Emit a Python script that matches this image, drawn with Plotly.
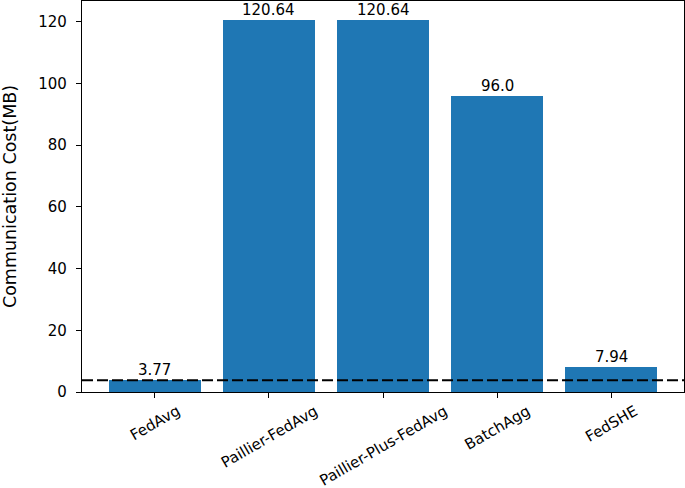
import plotly.graph_objects as go

methods = ["FedAvg", "Paillier-FedAvg", "Paillier-Plus-FedAvg", "BatchAgg", "FedSHE"]
cost_mb = [3.77, 120.64, 120.64, 96.0, 7.94]
cost_labels = ["3.77", "120.64", "120.64", "96.0", "7.94"]
y_ticks = [0, 20, 40, 60, 80, 100, 120]
baseline = cost_mb[0]

FONT = "DejaVu Sans"
BLUE = "#1f77b4"

fig = go.Figure()
fig.add_trace(go.Bar(
    x=list(range(len(methods))),
    y=cost_mb,
    width=0.8,
    marker=dict(color=BLUE, line=dict(width=0)),
    hoverinfo="skip",
))

# dashed reference line at the FedAvg cost, spanning the whole axis
fig.add_shape(type="line", xref="paper", x0=0, x1=1, yref="y", y0=baseline, y1=baseline,
              line=dict(color="black", width=2, dash="11px,4px"))

# value labels on top of each bar
for i, (val, lab) in enumerate(zip(cost_mb, cost_labels)):
    fig.add_annotation(x=i, y=val, xref="x", yref="y", yanchor="bottom", xanchor="center",
                       yshift=-1, text=lab, showarrow=False,
                       font=dict(family=FONT, size=15, color="black"))

# rotated category labels, centred under the ticks like matplotlib
for i, name in enumerate(methods):
    fig.add_annotation(x=i, xref="x", y=0, yref="paper", yanchor="top", xanchor="center",
                       yshift=-7, text=name, showarrow=False, textangle=-30,
                       font=dict(family=FONT, size=15, color="black"))

fig.update_layout(
    width=685, height=488,
    margin=dict(l=82, r=1, t=1, b=96, autoexpand=False),
    paper_bgcolor="white", plot_bgcolor="white",
    showlegend=False,
    font=dict(family=FONT, size=15, color="black"),
    bargap=0,
)
fig.update_xaxes(
    range=[-0.64, len(methods) - 1 + 0.64],
    tickvals=list(range(len(methods))), ticktext=[""] * len(methods),
    ticks="outside", ticklen=5, tickwidth=1.2, tickcolor="black",
    showline=True, linecolor="black", linewidth=1.3, mirror=True,
    showgrid=False, zeroline=False, automargin=False,
)
fig.update_yaxes(
    range=[0, max(cost_mb) * 1.05],
    tickvals=y_ticks,
    ticks="outside", ticklen=5, tickwidth=1.2, tickcolor="black",
    tickfont=dict(family=FONT, size=15), ticklabelstandoff=6,
    showline=True, linecolor="black", linewidth=1.3, mirror=True,
    showgrid=False, zeroline=False, automargin=False,
    title=dict(text="Communication Cost(MB)", font=dict(family=FONT, size=17.5), standoff=20),
)

# drop the page's default body margin so the figure sits at the window corner
fig.write_html("out.html", config={"displayModeBar": False},
               post_script="document.body.style.margin='0';")
